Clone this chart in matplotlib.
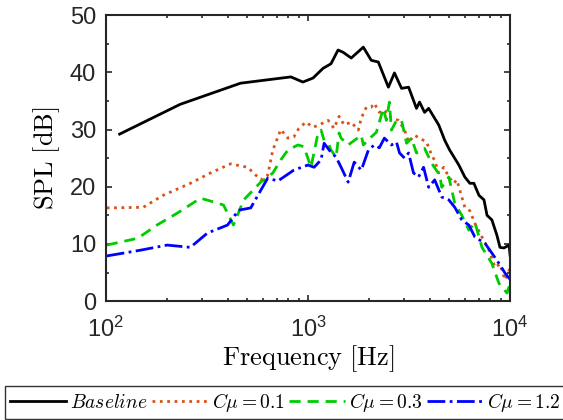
import numpy as np
import matplotlib
matplotlib.use("Agg")
import matplotlib.pyplot as plt
from matplotlib.ticker import MultipleLocator, LogLocator

plt.rcParams["font.family"] = ["Liberation Sans", "DejaVu Sans"]
plt.rcParams["mathtext.fontset"] = "cm"

# values (frequency in Hz, SPL in dB)
f_base = [117, 233, 464, 823, 944, 1059, 1188, 1300, 1409, 1493, 1637, 1879, 2056,
          2229, 2500, 2679, 2904, 3147, 3443, 3565, 3776, 3954, 4436, 4753, 5027,
          5577, 5972, 6324, 6622, 7015, 7430, 7691, 8128, 8610, 8913, 9333, 9886, 10000]
spl_base = [29.2, 34.4, 38.1, 39.2, 38.3, 39.0, 40.7, 41.5, 43.9, 43.5, 42.5, 44.4, 42.1,
            41.8, 37.4, 39.9, 37.2, 37.4, 33.7, 34.8, 33.0, 33.7, 30.8, 28.1, 26.4,
            23.8, 21.7, 20.6, 20.6, 18.5, 17.7, 15.0, 14.2, 11.5, 9.4, 9.3, 9.8, 8.0]

f_c01 = [101, 153, 192, 262, 329, 414, 503, 584, 632, 670, 734, 795, 851, 902, 977,
         1059, 1135, 1259, 1346, 1426, 1510, 1637, 1774, 1836, 1945, 2056, 2128, 2255,
         2388, 2588, 2805, 3006, 3147, 3365, 3524, 3864, 4093, 4236, 4436, 4699, 4977,
         5265, 5450, 5972, 6324, 6699, 7261, 7870, 8414, 8913, 9441, 10000]
spl_c01 = [16.3, 16.4, 18.5, 20.6, 22.4, 24.0, 23.4, 21.2, 22.0, 26.4, 30.0, 28.5, 28.7,
           30.2, 31.3, 30.4, 30.8, 31.6, 30.2, 32.3, 30.8, 31.3, 29.9, 32.0, 33.9, 33.9,
           34.6, 33.0, 33.4, 32.0, 31.6, 29.9, 27.8, 29.0, 28.6, 27.8, 25.5, 24.6, 22.4,
           23.4, 21.7, 20.6, 21.2, 16.4, 15.8, 13.6, 11.2, 8.9, 5.9, 6.5, 3.7, 5.8]

f_c03 = [101, 144, 179, 226, 294, 322, 382, 428, 481, 584, 670, 734, 795, 891, 955,
         1035, 1122, 1161, 1202, 1271, 1300, 1377, 1426, 1459, 1581, 1836, 1879, 2056,
         2178, 2361, 2443, 2529, 2588, 2742, 2904, 3076, 3252, 3443, 3776, 4093, 4487,
         4592, 4977, 5326, 5771, 6253, 6699, 7261, 8128, 8810, 9661, 10000]
spl_c03 = [9.8, 11.0, 13.3, 15.4, 18.0, 17.6, 16.8, 13.3, 17.7, 20.8, 22.4, 24.7, 26.4,
           27.3, 27.0, 23.4, 29.4, 29.9, 28.1, 27.3, 26.4, 25.2, 29.4, 28.5, 27.3, 29.0,
           27.3, 28.7, 29.5, 33.7, 31.6, 34.8, 29.9, 31.6, 31.6, 27.6, 28.5, 25.9, 26.7,
           24.1, 22.0, 19.9, 21.7, 17.1, 15.0, 12.4, 13.8, 9.4, 6.6, 3.1, 1.4, 3.1]

f_c12 = [101, 148, 201, 262, 318, 400, 454, 521, 632, 710, 851, 1000, 1072, 1161, 1202,
         1300, 1377, 1459, 1581, 1694, 1836, 1990, 2128, 2255, 2388, 2588, 2742, 2838,
         3006, 3147, 3328, 3524, 3733, 3954, 4236, 4592, 4977, 5326, 5771, 6253, 6699,
         7516, 8128, 8810, 9441, 10000]
spl_c12 = [7.9, 8.9, 9.8, 9.4, 11.9, 13.3, 15.9, 16.3, 21.5, 21.0, 22.9, 23.8, 23.4, 24.7,
           27.6, 26.0, 25.2, 23.4, 20.8, 24.3, 22.9, 26.4, 27.3, 26.8, 28.5, 27.3, 27.8,
           25.9, 25.0, 25.9, 22.4, 21.7, 23.4, 19.9, 21.2, 18.2, 17.7, 16.4, 14.2, 13.3,
           11.2, 10.1, 8.4, 6.6, 4.9, 3.8]

fig = plt.figure(figsize=(5.63, 4.2), dpi=100)
ax = fig.add_axes([0.188, 0.283, 0.718, 0.681])

lw = 2.0
ax.semilogx(f_base, spl_base, color="black", lw=lw, label=r"$\mathit{Baseline}$")
ax.semilogx(f_c01, spl_c01, color="#D95319", lw=lw, ls=":", label=r"$C\mu = 0.1$")
ax.semilogx(f_c03, spl_c03, color="#00CC00", lw=lw, ls="--", dashes=(4, 2.5),
            label=r"$C\mu = 0.3$")
ax.semilogx(f_c12, spl_c12, color="#0000FF", lw=lw, ls="-.", label=r"$C\mu = 1.2$")

ax.set_xlim(100, 10000)
ax.set_ylim(0, 50)
ax.yaxis.set_major_locator(MultipleLocator(10))
ax.yaxis.set_minor_locator(MultipleLocator(5))
ax.xaxis.set_major_locator(LogLocator(base=10))
ax.xaxis.set_minor_locator(LogLocator(base=10, subs=np.arange(2, 10)))

ax.tick_params(which="both", direction="in", top=True, right=True, colors="#262626",
               labelsize=17, width=1.2)
ax.tick_params(which="major", length=4)
ax.tick_params(which="minor", length=2.5)
ax.tick_params(axis="x", pad=11)
ax.tick_params(axis="y", pad=7)
for sp in ax.spines.values():
    sp.set_linewidth(1.5)
    sp.set_color("#262626")

ax.set_xlabel(r"$\mathrm{Frequency\ [Hz]}$", fontsize=19, labelpad=1)
ax.set_ylabel(r"$\mathrm{SPL\ [dB]}$", fontsize=19, labelpad=6)

fig.legend(loc="upper left", bbox_to_anchor=(5 / 563, 1 - 386 / 420), ncol=4,
           fontsize=14, frameon=True, fancybox=False, edgecolor="black",
           handlelength=2.9, handletextpad=0.2, columnspacing=0.2,
           borderpad=0.25, borderaxespad=0)

fig.savefig("out.png", dpi=100)
